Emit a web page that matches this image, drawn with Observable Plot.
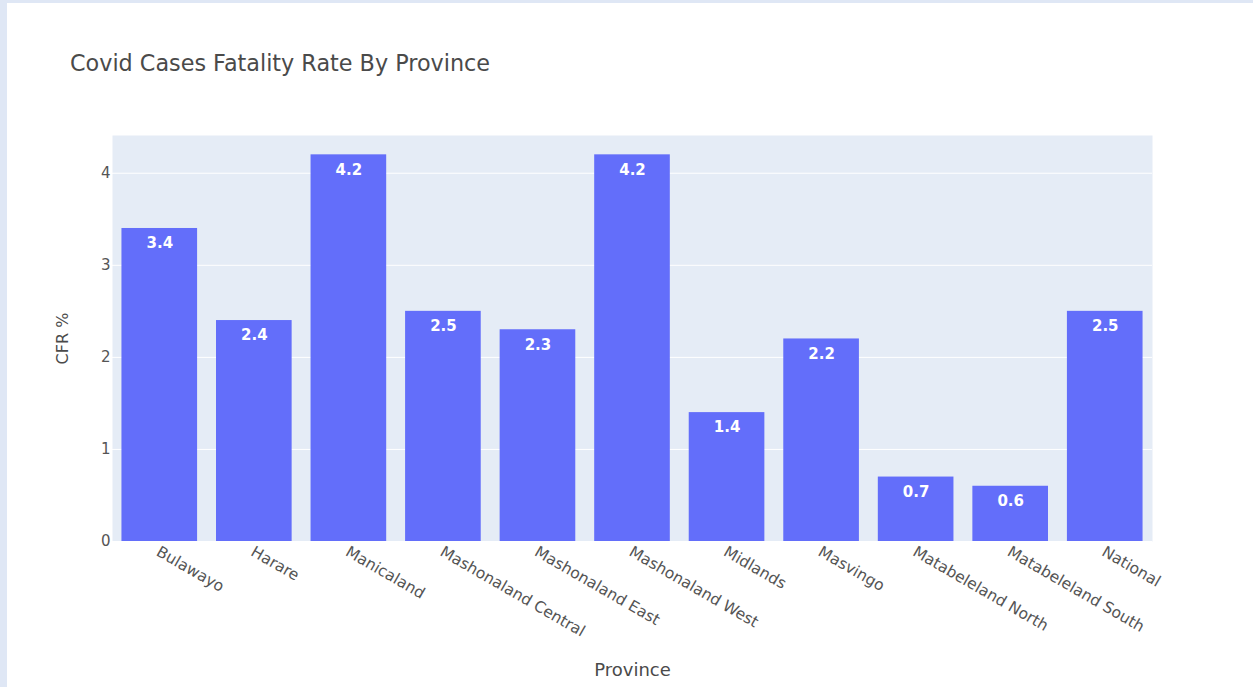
<!DOCTYPE html>
<html>
<head>
<meta charset="utf-8">
<script src="https://cdn.jsdelivr.net/npm/d3@7"></script>
<script src="https://cdn.jsdelivr.net/npm/@observablehq/plot@0.6"></script>
<style>
  html, body { margin: 0; padding: 0; background: #dfe7f5; width: 1253px; height: 687px; overflow: hidden; }
  #page { position: absolute; left: 7px; top: 3px; width: 1246px; height: 684px; background: #fff; font-family: "DejaVu Sans", Verdana, sans-serif; }
  #title { position: absolute; left: 63px; top: 49px; font-size: 22.3px; line-height: 22px; color: #4a4a4a; white-space: nowrap; }
  #chart { position: absolute; left: 0; top: 97px; }
</style>
</head>
<body>
<div id="page">
  <div id="title">Covid Cases Fatality Rate By Province</div>
  <div id="chart"></div>
</div>
<script>
const provinces = ["Bulawayo", "Harare", "Manicaland", "Mashonaland Central", "Mashonaland East", "Mashonaland West", "Midlands", "Masvingo", "Matabeleland North", "Matabeleland South", "National"];
const cfr = [3.4, 2.4, 4.2, 2.5, 2.3, 4.2, 1.4, 2.2, 0.7, 0.6, 2.5];
const yTicks = [0, 1, 2, 3, 4];
const xTitle = "Province";
const yTitle = "CFR %";

const data = provinces.map((p, i) => ({province: p, value: cfr[i], label: String(cfr[i])}));

const chart = Plot.plot({
  width: 1246,
  height: 587,
  marginLeft: 105,
  marginRight: 101,
  marginTop: 35,
  marginBottom: 146,
  style: {fontFamily: "DejaVu Sans, Verdana, sans-serif", fontSize: "15px", color: "#555", background: "transparent"},
  x: {domain: provinces, paddingInner: 0.2, paddingOuter: 0.1, round: false, label: null},
  y: {domain: [0, 4.41], label: null},
  marks: [
    Plot.frame({fill: "#e5ecf6", stroke: null}),
    Plot.gridY(yTicks, {stroke: "#fff", strokeOpacity: 1, strokeWidth: 1}),
    Plot.barY(data, {x: "province", y: "value", fill: "#636efa"}),
    Plot.text(data, {x: "province", y: "value", text: "label", fill: "#fff", dy: 15, fontSize: 15, fontWeight: "bold"}),
    Plot.axisY(yTicks, {tickSize: 0, tickPadding: 2, fontSize: 15, fill: "#555", tickFormat: d3.format("d"), label: null}),
    Plot.axisX({tickSize: 0, tickRotate: 30, tickPadding: 9, dx: -2, fontSize: 15.5, fill: "#555", label: null}),
    Plot.text([yTitle], {frameAnchor: "left", textAnchor: "middle", text: d => d, rotate: -90, dx: -50, fontSize: 16, fill: "#4a4a4a"}),
    Plot.text([xTitle], {frameAnchor: "bottom", text: d => d, dy: 134, fontSize: 18, fill: "#4a4a4a"})
  ]
});
document.getElementById("chart").appendChild(chart);
</script>
</body>
</html>
